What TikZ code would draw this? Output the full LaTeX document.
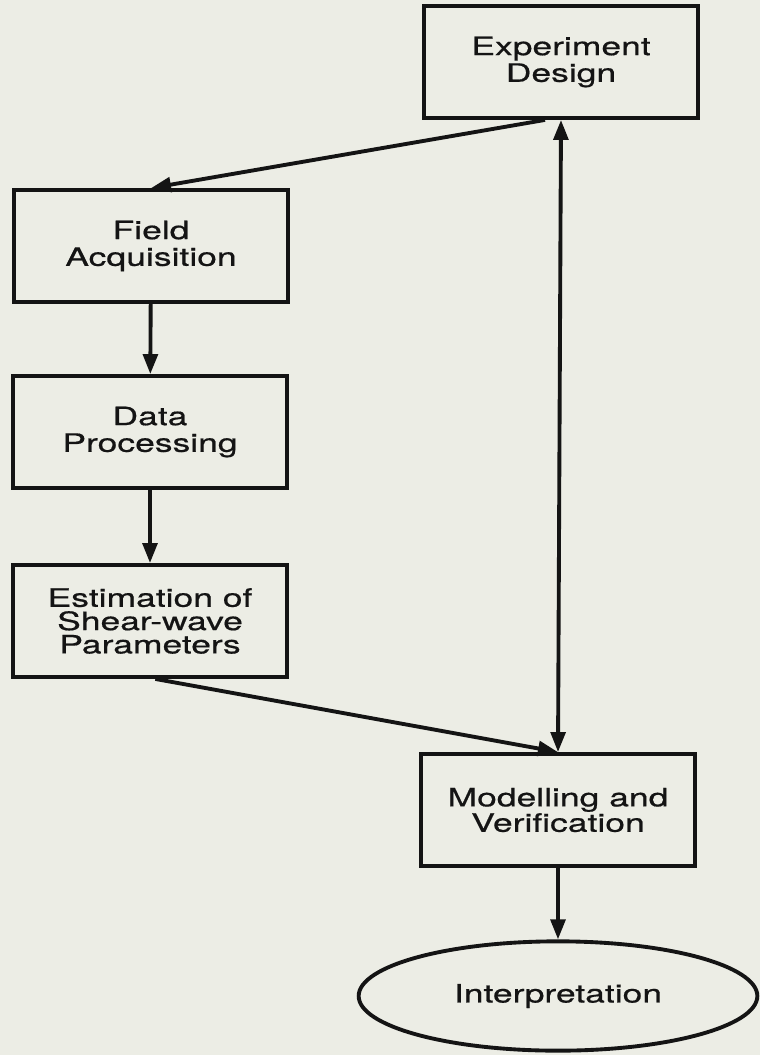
\documentclass[tikz,border=0pt]{standalone}
\usepackage{fontspec}
\newfontfamily\boxfont[FakeStretch=1.4,FakeBold=0.6]{TeX Gyre Heros}
\usetikzlibrary{arrows.meta,shapes.geometric}
\definecolor{paper}{HTML}{ECEDE5}
\definecolor{ink}{HTML}{141414}
\tikzset{
  stage/.style={draw=ink, line width=2.9pt, minimum width=206pt, minimum height=84pt,
    align=center, text=ink, font=\boxfont\fontsize{19}{20}\selectfont},
  flow/.style={draw=ink, line width=2.9pt, -{Triangle[width=11pt,length=15pt]}},
  twoway/.style={draw=ink, line width=2.9pt, {Triangle[width=11pt,length=15pt]}-{Triangle[width=11pt,length=15pt]}},
}
\begin{document}
\begin{tikzpicture}[x=0.75pt,y=-0.75pt]
        \useasboundingbox (0,0) rectangle (760,1055);
        \fill[paper] (0,0) rectangle (760,1055);

        \node[stage] (exp) at (561,62) {Experiment\\Design};
        \node[stage] (field) at (151,246) {Field\\Acquisition};
        \node[stage] (proc) at (150,432) {Data\\Processing};
        \node[stage, font=\boxfont\fontsize{19}{17.5}\selectfont] (est) at (150,621) {Estimation of\\Shear-wave\\Parameters};
        \node[stage, font=\boxfont\fontsize{19}{18}\selectfont] (model) at (558,810) {Modelling and\\Verification};
        \node[stage, ellipse, minimum width=299pt, minimum height=82pt] (interp) at (558,996) {Interpretation};

        \draw[flow] ([xshift=-12pt]exp.south) -- (field.north);
        \draw[twoway] (exp.south) -- (model.north);
        \draw[flow] (field) -- (proc);
        \draw[flow] (proc) -- (est);
        \draw[flow] ([xshift=4pt]est.south) -- (model.north);
        \draw[flow] (model) -- (interp);
    \end{tikzpicture}
\end{document}
